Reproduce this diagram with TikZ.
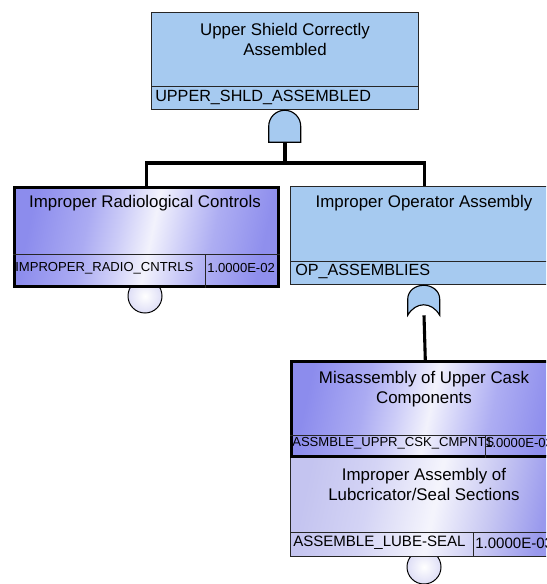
\documentclass[tikz,border=0pt]{standalone}
\usepackage{fontspec}
\setmainfont{Liberation Sans}
\usetikzlibrary{positioning}

\definecolor{skyfill}{RGB}{166,202,240}
\definecolor{circlav}{RGB}{222,222,246}
\pgfdeclarehorizontalshading{evglow}{100bp}{rgb(0bp)=(0.55,0.55,0.93); rgb(25bp)=(0.55,0.55,0.93); rgb(37bp)=(0.67,0.67,0.95); rgb(44bp)=(0.8,0.8,0.97); rgb(51bp)=(0.95,0.95,0.99); rgb(58bp)=(0.8,0.8,0.97); rgb(64bp)=(0.68,0.68,0.95); rgb(75bp)=(0.56,0.56,0.93); rgb(100bp)=(0.56,0.56,0.93)}
\pgfdeclarehorizontalshading{evglowlt}{100bp}{rgb(0bp)=(0.77,0.77,0.94); rgb(25bp)=(0.77,0.77,0.94); rgb(38bp)=(0.83,0.83,0.96); rgb(52bp)=(0.96,0.96,0.99); rgb(64bp)=(0.78,0.78,0.95); rgb(75bp)=(0.6,0.6,0.93); rgb(100bp)=(0.6,0.6,0.93)}
\newcommand{\ttlfont}{\fontsize{12}{14.2}\selectfont}
\newcommand{\idbig}{\fontsize{11.5}{13}\selectfont}
\newcommand{\idsmall}{\fontsize{9.3}{11}\selectfont}
\newcommand{\idmid}{\fontsize{10.7}{12}\selectfont}

\begin{document}
\begin{tikzpicture}[x=0.025cm, y=-0.025cm,
  evbox/.style={draw=black!85, line width=0.8pt, inner sep=0pt, anchor=north west},
  skybox/.style={evbox, fill=skyfill},
  hotbox/.style={evbox, draw=black, line width=1.8pt, shading=evglow, shading angle=-12},
  ttl/.style={align=center, inner sep=0pt, anchor=north, font=\ttlfont},
  idtxt/.style={anchor=west, inner sep=0pt, font=\idbig},
  divider/.style={draw=black!85, line width=0.7pt},
  conn/.style={line width=2.2pt},
  gatebox/.style={inner sep=0pt, minimum size=0.8cm},
  gate/.style={draw=black, line width=0.8pt, fill=skyfill},
  basic/.style={circle, draw=black, line width=0.7pt, minimum size=0.85cm, inner sep=0pt,
    shading=radial, inner color=white, outer color=circlav}]
  \useasboundingbox (0,0) rectangle (546,584);
  \clip (0,0) rectangle (546,584);

  % Basic event circles (sit behind the boxes)
  \node[basic] (radioev) at (145,296) {};
  \node[basic] (lubeev)  at (424,567) {};

  % Top event
  \node[skybox, minimum width=6.675cm, minimum height=2.425cm] (topev) at (151,12) {};
  \draw[divider] ([yshift=0.6cm]topev.south west) -- ([yshift=0.6cm]topev.south east);
  \node[ttl] (toptxt) at (285,23) {Upper Shield Correctly\\Assembled};
  \node[idtxt] (topid) at (155,97) {UPPER\_SHLD\_ASSEMBLED};

  % AND gate
  \node[gatebox] (andg) at (285,126) {};
  \draw[gate, shift={(andg.south west)}, x=1cm, y=1cm]
    (0,0) -- (0,0.4) arc[start angle=180, end angle=0, radius=0.4] -- (0.8,0) -- cycle;

  % Improper radiological controls
  \node[hotbox, minimum width=6.6cm, minimum height=2.475cm] (radio) at (13,186) {};
  \draw[divider] ([yshift=0.825cm]radio.south west) -- ([yshift=0.825cm]radio.south east);
  \draw[divider] ([xshift=-1.85cm]radio.south east) -- ([xshift=-1.85cm,yshift=0.825cm]radio.south east);
  \node[ttl] (radiotxt) at (145,195) {Improper Radiological Controls};
  \node[idtxt, font=\idsmall] (radioid) at (15,268) {IMPROPER\_RADIO\_CNTRLS};
  \node[idtxt, font=\idsmall] (radiop) at (207,268) {1.0000E-02};

  % Improper operator assembly
  \node[skybox, minimum width=6.7cm, minimum height=2.45cm] (opasm) at (290,186) {};
  \draw[divider] ([yshift=0.6cm]opasm.south west) -- ([yshift=0.6cm]opasm.south east);
  \node[ttl] (optxt) at (424,195) {Improper Operator Assembly};
  \node[idtxt] (opid) at (295,271) {OP\_ASSEMBLIES};

  % OR gate
  \node[gatebox, minimum height=0.75cm] (org) at (424,300) {};
  \draw[gate, shift={(org.south west)}, x=1cm, y=1cm]
    (0,0) -- (0,0.4) .. controls (0,0.62) and (0.2,0.75) .. (0.4,0.75)
    .. controls (0.6,0.75) and (0.8,0.62) .. (0.8,0.4) -- (0.8,0)
    .. controls (0.6,0.35) and (0.2,0.35) .. (0,0) -- cycle;

  % Lubricator/seal sections
  \node[evbox, shading=evglowlt, shading angle=-12, minimum width=6.7cm, minimum height=2.525cm] (lube) at (290,455) {};
  \draw[divider] ([yshift=0.625cm]lube.south west) -- ([yshift=0.625cm]lube.south east);
  \draw[divider] ([xshift=-2.15cm]lube.south east) -- ([xshift=-2.15cm,yshift=0.625cm]lube.south east);
  \node[ttl] (lubetxt) at (424,468) {Improper Assembly of\\Lubcricator/Seal Sections};
  \node[idtxt, font=\idmid] (lubeid) at (293,543) {ASSEMBLE\_LUBE-SEAL};
  \node[idtxt, font=\idmid] (lubep) at (475,543) {1.0000E-03};

  % Misassembly of upper cask components
  \node[hotbox, minimum width=6.7cm, minimum height=2.375cm] (misasm) at (290,360) {};
  \draw[divider] ([yshift=0.55cm]misasm.south west) -- ([yshift=0.55cm]misasm.south east);
  \draw[divider] ([xshift=-1.875cm]misasm.south east) -- ([xshift=-1.875cm,yshift=0.55cm]misasm.south east);
  \node[ttl] (misasmtxt) at (424,371) {Misassembly of Upper Cask\\Components};
  \node[idtxt, font=\idsmall] (misasmid) at (292,443) {ASSMBLE\_UPPR\_CSK\_CMPNTS};
  \node[idtxt, font=\idsmall] (misasmp) at (485,443) {1.0000E-03};

  % Connectors
  \coordinate (split) at (285,163);
  \draw[conn] (andg.south) -- (split);
  \draw[conn] (radio.north) |- (split) -| (opasm.north);
  \draw[conn] (org.south) -- (misasm.north);
\end{tikzpicture}
\end{document}
